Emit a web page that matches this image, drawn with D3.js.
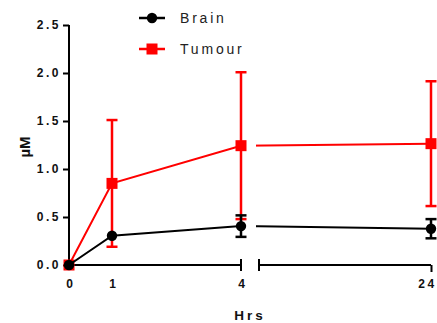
<!DOCTYPE html>
<html><head><meta charset="utf-8">
<script src="https://cdn.jsdelivr.net/npm/d3@7"></script>
<style>body{margin:0;background:#fff}svg{display:block}</style>
</head><body>
<script>
const hours = [0, 1, 4, 24];
const brainMean = [0, 0.305, 0.405, 0.378];
const brainErr  = [0, 0, 0.112, 0.1];
const tumourMean = [0, 0.85, 1.243, 1.264];
const tumourErr  = [0, 0.66, 0.765, 0.65];
const yTicks = [0, 0.5, 1.0, 1.5, 2.0, 2.5];
const xTickLabels = ["0", "1", "4", "24"];
const seriesNames = ["Brain", "Tumour"];

const W = 437, H = 323;
const svg = d3.select("body").append("svg").attr("width", W).attr("height", H);

const y = d3.scaleLinear().domain([0, 2.5]).range([265, 25]);
const x1 = d3.scaleLinear().domain([0, 4]).range([69, 241]);
const x2 = d3.scaleLinear().domain([4, 24]).range([259, 431]);
const xp = h => h <= 4 ? x1(h) : x2(h);

const font = "'Liberation Sans', Arial, sans-serif";
const ls = 2.5;

// Y axis
const yAxis = svg.append("g").attr("transform", `translate(${x1(0)},0)`)
  .call(d3.axisLeft(y).tickValues(yTicks).tickFormat(d3.format(".1f")).tickSize(6).tickPadding(2));
yAxis.select(".domain").attr("d", `M0,${y(2.5)}V${y(0)}`).attr("stroke", "#000").attr("stroke-width", 2);
yAxis.selectAll(".tick line").attr("stroke", "#000").attr("stroke-width", 2);
yAxis.selectAll(".tick text").attr("font-family", font).attr("font-weight", "bold")
  .attr("font-size", 12).attr("letter-spacing", ls + "px").attr("fill", "#111");

// X axis segment 1
const xa1 = svg.append("g").attr("transform", `translate(0,${y(0)})`)
  .call(d3.axisBottom(x1).tickValues([0, 1, 4]).tickFormat((d, i) => xTickLabels[i]).tickSize(0).tickPadding(14));
xa1.select(".domain").attr("d", `M${x1(0)},0H${x1(4)}`).attr("stroke", "#000").attr("stroke-width", 2);
// X axis segment 2
const xa2 = svg.append("g").attr("transform", `translate(0,${y(0)})`)
  .call(d3.axisBottom(x2).tickValues([24]).tickFormat(() => xTickLabels[3]).tickSize(7).tickPadding(7));
xa2.select(".domain").attr("d", `M${x2(4)},0H${x2(24)}`).attr("stroke", "#000").attr("stroke-width", 2);
xa2.selectAll(".tick line").attr("stroke", "#000").attr("stroke-width", 2);
[xa1, xa2].forEach(a => a.selectAll(".tick text").attr("font-family", font).attr("font-weight", "bold")
  .attr("font-size", 12).attr("letter-spacing", ls + "px").attr("fill", "#111").attr("dx", ls / 2));
xa2.selectAll(".tick text").attr("dx", -4);
// break caps
svg.append("line").attr("x1", x1(4)).attr("x2", x1(4)).attr("y1", y(0) - 6).attr("y2", y(0) + 6).attr("stroke", "#000").attr("stroke-width", 2);
svg.append("line").attr("x1", x2(4)).attr("x2", x2(4)).attr("y1", y(0) - 6).attr("y2", y(0) + 6).attr("stroke", "#000").attr("stroke-width", 2);

// clip for gap
const defs = svg.append("defs");
const cp = defs.append("clipPath").attr("id", "gap");
cp.append("rect").attr("x", 0).attr("y", 0).attr("width", x1(4) + 5).attr("height", H);
cp.append("rect").attr("x", x2(4) - 3).attr("y", 0).attr("width", W).attr("height", H);

function drawSeries(means, errs, color, shape) {
  const g = svg.append("g");
  const line = d3.line().x((d, i) => xp(hours[i])).y(d => y(d));
  g.append("path").datum(means).attr("d", line).attr("fill", "none")
    .attr("stroke", color).attr("stroke-width", 2).attr("clip-path", "url(#gap)");
  means.forEach((m, i) => {
    const e = errs[i];
    if (e > 0) {
      const cx = xp(hours[i]);
      g.append("line").attr("x1", cx).attr("x2", cx).attr("y1", y(m - e)).attr("y2", y(m + e))
        .attr("stroke", color).attr("stroke-width", 2.5);
      [m - e, m + e].forEach(v => g.append("line").attr("x1", cx - 5.5).attr("x2", cx + 5.5)
        .attr("y1", y(v)).attr("y2", y(v)).attr("stroke", color).attr("stroke-width", 2.5));
    }
  });
  means.forEach((m, i) => {
    const cx = xp(hours[i]), cy = y(m);
    if (shape === "circle") g.append("circle").attr("cx", cx).attr("cy", cy).attr("r", 5.2).attr("fill", color);
    else g.append("rect").attr("x", cx - 5.5).attr("y", cy - 5.5).attr("width", 11).attr("height", 11).attr("fill", color);
  });
}
drawSeries(tumourMean, tumourErr, "#ff0000", "square");
drawSeries(brainMean, brainErr, "#000000", "circle");

// Legend
const leg = [
  {name: seriesNames[0], color: "#000", shape: "circle", y: 18},
  {name: seriesNames[1], color: "#ff0000", shape: "square", y: 49}
];
leg.forEach(l => {
  svg.append("line").attr("x1", 139).attr("x2", 165).attr("y1", l.y).attr("y2", l.y)
    .attr("stroke", l.color).attr("stroke-width", 2.5);
  if (l.shape === "circle") svg.append("circle").attr("cx", 152).attr("cy", l.y).attr("r", 5.2).attr("fill", l.color);
  else svg.append("rect").attr("x", 146.5).attr("y", l.y - 5.5).attr("width", 11).attr("height", 11).attr("fill", l.color);
  svg.append("text").attr("x", 180).attr("y", l.y + 5).text(l.name)
    .attr("font-family", font).attr("font-size", 14).attr("letter-spacing", "2.8px").attr("fill", "#222");
});

// Axis titles
svg.append("text").attr("transform", `translate(30,147) rotate(-90)`).attr("text-anchor", "middle")
  .attr("font-family", font).attr("font-weight", "bold").attr("font-size", 15).attr("fill", "#111").text("µM");
svg.append("text").attr("x", 250).attr("y", 320).attr("text-anchor", "middle")
  .attr("font-family", font).attr("font-weight", "bold").attr("font-size", 13.5).attr("letter-spacing", "3px").attr("fill", "#111").text("Hrs");
</script>
</body></html>
